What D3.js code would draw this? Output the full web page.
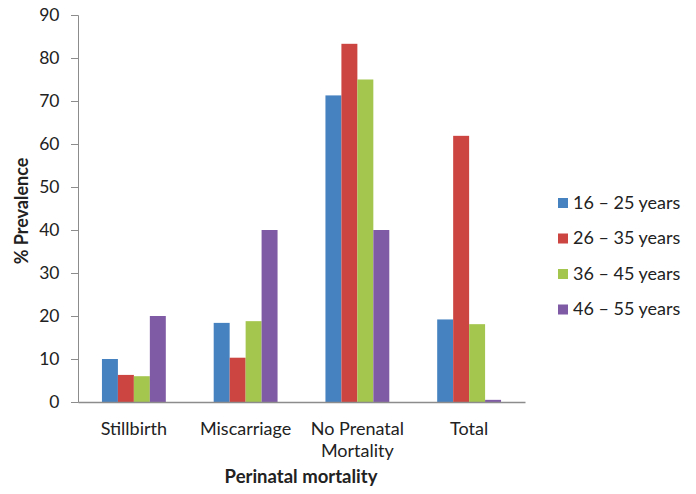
<!DOCTYPE html>
<html><head><meta charset="utf-8">
<script src="https://cdn.jsdelivr.net/npm/d3@7"></script>
<style>body{margin:0;background:#fff}svg{display:block}text{font-family:Lato,"Open Sans",sans-serif;fill:#222}</style>
</head><body><svg id="c" width="696" height="494"></svg>
<script>
const categories = ["Stillbirth", "Miscarriage", "No Prenatal\nMortality", "Total"];
const seriesNames = ["16 \u2013 25 years", "26 \u2013 35 years", "36 \u2013 45 years", "46 \u2013 55 years"];
const s16_25 = [10.0, 18.4, 71.3, 19.2];
const s26_35 = [6.3, 10.3, 83.3, 61.9];
const s36_45 = [6.0, 18.8, 75.0, 18.1];
const s46_55 = [20.0, 40.0, 40.0, 0.5];
const yTicks = [0, 10, 20, 30, 40, 50, 60, 70, 80, 90];
const colors = ["#4682c0", "#cc4540", "#a4c64f", "#805ba5"];
const seriesValues = [s16_25, s26_35, s36_45, s46_55];

const svg = d3.select("#c");
const mLeft = 78, mRight = 525, mTop = 15, mBottom = 402;
const x = d3.scaleBand().domain(categories).range([mLeft, mRight]).paddingInner(0).paddingOuter(0);
const xs = d3.scaleBand().domain(seriesNames).range([0, x.bandwidth()]).paddingInner(0).paddingOuter(1.5);
const y = d3.scaleLinear().domain([0, 90]).range([mBottom, mTop]);

const yAxis = svg.append("g").attr("transform", `translate(${mLeft},0)`)
  .call(d3.axisLeft(y).tickValues(yTicks).tickSize(7).tickPadding(11.5).tickFormat(d3.format("d")));
yAxis.select(".domain").attr("stroke", "#8c8c8c");
yAxis.selectAll(".tick line").attr("stroke", "#8c8c8c");
yAxis.selectAll(".tick text").style("font-size", "17.5px").attr("fill", "#222");

categories.forEach((c, ci) => {
  seriesValues.forEach((vals, si) => {
    svg.append("rect")
      .attr("x", x(c) + xs(seriesNames[si]))
      .attr("width", xs.bandwidth())
      .attr("y", y(vals[ci]))
      .attr("height", y(0) - y(vals[ci]))
      .attr("fill", colors[si]);
  });
});

const xAxis = svg.append("g").attr("transform", `translate(0,${mBottom})`)
  .call(d3.axisBottom(x).tickSize(0).tickFormat(""));
xAxis.select(".domain").attr("stroke", "#8c8c8c").attr("stroke-width", 1.5);

categories.forEach(c => {
  const lines = c.split("\n");
  const t = svg.append("text").attr("x", x(c) + x.bandwidth() / 2).attr("y", 435)
    .attr("text-anchor", "middle").style("font-size", "18px");
  lines.forEach((l, i) => t.append("tspan").attr("x", x(c) + x.bandwidth() / 2).attr("dy", i ? 22 : 0).text(l));
});

svg.append("text").attr("x", 301).attr("y", 483).attr("text-anchor", "middle")
  .style("font-size", "18.5px").style("font-weight", "bold").text("Perinatal mortality");
svg.append("text").attr("transform", "translate(28,211) rotate(-90)").attr("text-anchor", "middle")
  .style("font-size", "18px").style("font-weight", "bold").text("% Prevalence");

const lg = svg.append("g");
seriesNames.forEach((n, i) => {
  const cy = 203 + i * 35.5;
  lg.append("rect").attr("x", 558).attr("y", cy - 5).attr("width", 10).attr("height", 10).attr("fill", colors[i]);
  lg.append("text").attr("x", 573).attr("y", cy + 5.5).style("font-size", "18px").text(n);
});
</script></body></html>
